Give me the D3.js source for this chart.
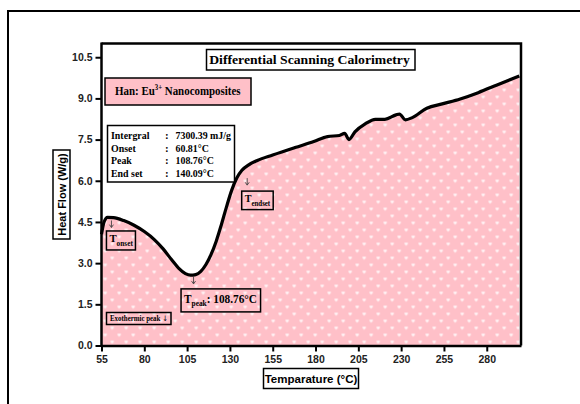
<!DOCTYPE html>
<html>
<head>
<meta charset="utf-8">
<script src="https://cdn.jsdelivr.net/npm/d3@7"></script>
<style>
  body { margin: 0; background: #fff; }
  svg { display: block; }
</style>
</head>
<body>
<svg id="chart" width="580" height="404"></svg>
<script>
// DSC trace: temperature (°C) vs heat flow (W/g)
const temperature = [55, 56.5, 58.5, 62, 68, 74, 80, 86, 91, 96, 100, 104, 107, 110, 113, 116, 119, 122, 125, 128, 131, 134, 137, 141, 146, 155, 168, 179, 187, 194, 197, 199.5, 203, 209, 215, 220.5, 227, 229, 232.5, 236.5, 245, 254, 264.5, 275, 286, 299];
const heatFlow = [4.05, 4.50, 4.67, 4.66, 4.55, 4.38, 4.15, 3.85, 3.52, 3.12, 2.82, 2.62, 2.56, 2.58, 2.70, 2.95, 3.32, 3.80, 4.40, 5.05, 5.65, 6.10, 6.38, 6.58, 6.74, 6.94, 7.21, 7.43, 7.61, 7.65, 7.73, 7.50, 7.78, 8.07, 8.24, 8.24, 8.40, 8.43, 8.22, 8.30, 8.64, 8.80, 8.98, 9.21, 9.49, 9.82];

const xTicks = [55, 80, 105, 130, 155, 180, 205, 230, 255, 280];
const yTicks = [0, 1.5, 3.0, 4.5, 6.0, 7.5, 9.0, 10.5];

// characteristic temperatures marked on the trace
const transitionNames = ["onset", "peak", "endset"];
const transitionTemps = [60.81, 108.76, 140.09];

// summary table
const summaryLabels = ["Intergral", "Onset", "Peak", "End set"];
const summaryValues = ["7300.39 mJ/g", "60.81\u00B0C", "108.76\u00B0C", "140.09\u00B0C"];

const SERIF = "'Liberation Serif', 'Times New Roman', serif";
const SANS = "'Liberation Sans', Arial, sans-serif";
const PINK = "#ffc0c8";

const svg = d3.select("#chart");
const plot = { left: 101.5, right: 521, top: 43.5, bottom: 345.5 };

const x = d3.scaleLinear().domain([55, 300]).range([plot.left, plot.right]);
const y = d3.scaleLinear().domain([0, 11]).range([plot.bottom, plot.top]);

const data = temperature.map((t, i) => ({ t, v: heatFlow[i] }));

// squeeze or stretch a text horizontally to a given width, pinned at ax
function fit(sel, target, ax) {
  const w = sel.node().getBBox().width;
  const s = target / w;
  sel.attr("transform", `translate(${ax},0) scale(${s},1) translate(${-ax},0)`);
  return s;
}

// outer frame
svg.append("rect")
  .attr("x", 8).attr("y", 11).attr("width", 600).attr("height", 420)
  .attr("fill", "none").attr("stroke", "#000").attr("stroke-width", 2);

// pink fill with a small white heart motif
const defs = svg.append("defs");
const pat = defs.append("pattern")
  .attr("id", "hearts").attr("patternUnits", "userSpaceOnUse")
  .attr("width", 14).attr("height", 14)
  .attr("x", plot.left).attr("y", plot.bottom);
pat.append("rect").attr("width", 14).attr("height", 14).attr("fill", PINK);
const heart = "M0,1 C0,-0.4 1.6,-0.4 1.7,0.8 C1.8,-0.4 3.4,-0.4 3.4,1 C3.4,2 1.9,2.6 1.7,3.4 C1.5,2.6 0,2 0,1Z";
[[2, 2], [9, 9]].forEach(([px, py]) => {
  pat.append("path").attr("d", heart)
    .attr("transform", `translate(${px},${py})`)
    .attr("fill", "#fff").attr("opacity", 0.85);
});

const area = d3.area()
  .x(d => x(d.t)).y0(y(0)).y1(d => y(d.v))
  .curve(d3.curveMonotoneX);
const line = d3.line()
  .x(d => x(d.t)).y(d => y(d.v))
  .curve(d3.curveMonotoneX);

svg.append("path").datum(data)
  .attr("d", area).attr("fill", "url(#hearts)");

svg.append("path").datum(data)
  .attr("d", line).attr("fill", "none")
  .attr("stroke", "#000").attr("stroke-width", 3.2)
  .attr("stroke-linejoin", "round");

// plot frame: top and right edges
svg.append("path")
  .attr("d", `M${plot.left},${plot.top}H${plot.right}V${plot.bottom}`)
  .attr("fill", "none").attr("stroke", "#000").attr("stroke-width", 2.5);

// axes
const xAxis = svg.append("g")
  .attr("transform", `translate(0,${plot.bottom})`)
  .call(d3.axisBottom(x).tickValues(xTicks).tickSize(6).tickPadding(4).tickSizeOuter(0));
const yAxis = svg.append("g")
  .attr("transform", `translate(${plot.left},0)`)
  .call(d3.axisLeft(y).tickValues(yTicks).tickFormat(d3.format(".1f")).tickSize(6).tickPadding(3).tickSizeOuter(0));

[xAxis, yAxis].forEach(g => {
  g.select(".domain").attr("stroke", "#000").attr("stroke-width", 2.5);
  g.selectAll(".tick line").attr("stroke", "#000").attr("stroke-width", 2);
  g.selectAll(".tick text")
    .attr("font-family", SANS).attr("font-weight", "bold")
    .attr("font-size", 10.5).attr("fill", "#222");
});
yAxis.select(".domain").attr("d", `M0,${plot.bottom + 1}V${plot.top - 1}`);

// boxed helper
function box(xp, yp, w, h, fill) {
  return svg.append("rect")
    .attr("x", xp).attr("y", yp).attr("width", w).attr("height", h)
    .attr("fill", fill || "none").attr("stroke", "#000").attr("stroke-width", 1.5);
}

// title
box(206.5, 49.5, 208.5, 20.5, "#fff");
const title = svg.append("text")
  .attr("x", 309.5).attr("y", 64.5).attr("text-anchor", "middle")
  .attr("font-family", SERIF).attr("font-weight", "bold").attr("font-size", 13.5)
  .text("Differential Scanning Calorimetry");
fit(title, 201, 309.5);

// sample label
box(105, 78, 146, 27, PINK);
const han = svg.append("text")
  .attr("x", 115).attr("y", 95.5)
  .attr("font-family", SERIF).attr("font-weight", "bold").attr("font-size", 12);
han.append("tspan").text("Han: Eu");
han.append("tspan").attr("font-size", 7.5).attr("dy", -5).text("3+");
han.append("tspan").attr("dy", 5).text(" Nanocomposites");
fit(han, 126, 115);

// summary table
box(107.5, 125.5, 127, 56.5, "#fff");
const tbl = svg.append("g")
  .attr("font-family", SERIF).attr("font-weight", "bold").attr("font-size", 11);
summaryLabels.forEach((lab, i) => {
  const by = 139 + i * 12.7;
  tbl.append("text").attr("class", "lab").attr("x", 111).attr("y", by).text(lab);
  tbl.append("text").attr("x", 165).attr("y", by).text(":");
  tbl.append("text").attr("class", "val").attr("x", 175.5).attr("y", by).text(summaryValues[i]);
});
const sTbl = fit(tbl.select(".val"), 56, 175.5);
tbl.selectAll(".val").attr("transform", `translate(175.5,0) scale(${sTbl},1) translate(-175.5,0)`);
tbl.selectAll(".lab").attr("transform", `translate(111,0) scale(${sTbl},1) translate(-111,0)`);

// transition markers: arrow below the trace + boxed label
const bis = d3.bisector(d => d.t).left;
function valueAt(t) {
  const i = Math.max(1, Math.min(data.length - 1, bis(data, t)));
  const a = data[i - 1], b = data[i];
  return a.v + (b.v - a.v) * (t - a.t) / (b.t - a.t);
}

const labelSpec = {
  onset:  { arrow: 3,  top: 13.5, dx: -5,    w: 29,   h: 19,   big: 11, sub: 7.5, textW: 24, after: "" },
  peak:   { arrow: 2,  top: 14,   dx: -12.5, w: 79.5, h: 23,   big: 13, sub: 8.5, textW: 73, after: ": 108.76\u00B0C" },
  endset: { arrow: 12, top: 25,   dx: -5.5,  w: 31.5, h: 18.5, big: 11, sub: 7.5, textW: 26, after: "" }
};

transitionNames.forEach((name, i) => {
  const t = transitionTemps[i];
  const s = labelSpec[name];
  const ax = x(t);
  const cy = y(valueAt(t));
  const a0 = cy + s.arrow, a1 = a0 + 7;
  svg.append("path")
    .attr("d", `M${ax},${a0}V${a1}M${ax - 2},${a1 - 2.8}L${ax},${a1}L${ax + 2},${a1 - 2.8}`)
    .attr("fill", "none").attr("stroke", "#444").attr("stroke-width", 0.9);

  const bx = ax + s.dx, bTop = cy + s.top;
  box(bx, bTop, s.w, s.h);
  const tx = svg.append("text")
    .attr("x", bx + 3).attr("y", bTop + s.h * 0.6)
    .attr("font-family", SERIF).attr("font-weight", "bold").attr("font-size", s.big);
  tx.append("tspan").text("T");
  tx.append("tspan").attr("font-size", s.sub).attr("dy", 3.5).text(name);
  if (s.after) tx.append("tspan").attr("dy", -3.5).text(s.after);
  fit(tx, s.textW, bx + 3);
});

// exothermic direction note
box(106.5, 312.5, 64.5, 12);
const exo = svg.append("text")
  .attr("x", 110).attr("y", 321.3)
  .attr("font-family", SERIF).attr("font-weight", "bold").attr("font-size", 7.5);
exo.append("tspan").text("Exothermic peak ");
exo.append("tspan").attr("font-family", "'DejaVu Sans', sans-serif").attr("font-weight", "normal").text("\u2193");
fit(exo, 58, 110);

// axis titles
box(53, 150, 17, 89, "#fff");
svg.append("text")
  .attr("transform", `translate(62,194.5) rotate(-90)`)
  .attr("text-anchor", "middle").attr("dominant-baseline", "central")
  .attr("font-family", SANS).attr("font-weight", "bold").attr("font-size", 11)
  .text("Heat Flow (W/g)");

box(263.5, 368.5, 95, 20, "#fff");
svg.append("text")
  .attr("x", 311).attr("y", 383)
  .attr("text-anchor", "middle")
  .attr("font-family", SANS).attr("font-weight", "bold").attr("font-size", 11.5)
  .text("Temparature (\u00B0C)");
</script>
</body>
</html>
